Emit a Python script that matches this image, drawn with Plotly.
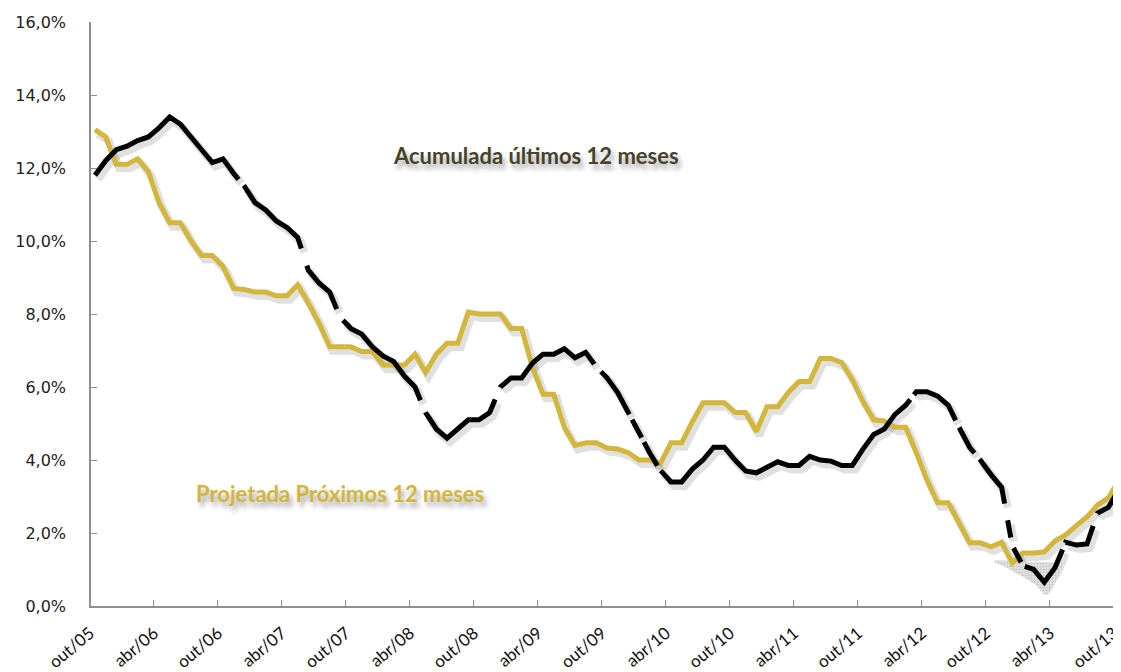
import math
import plotly.graph_objects as go

# ---------------- data ----------------
TICK_LABELS = ["out/05", "abr/06", "out/06", "abr/07", "out/07", "abr/08", "out/08",
               "abr/09", "out/09", "abr/10", "out/10", "abr/11", "out/11", "abr/12",
               "out/12", "abr/13", "out/13"]
Y_TICKS = [0, 2, 4, 6, 8, 10, 12, 14, 16]
Y_TICK_LABELS = ["0,0%", "2,0%", "4,0%", "6,0%", "8,0%", "10,0%", "12,0%", "14,0%", "16,0%"]

ACUMULADA = [11.8, 12.2, 12.5, 12.6, 12.75, 12.85, 13.1, 13.4, 13.2, 12.85,
             12.5, 12.15, 12.25, 11.85, 11.5, 11.05, 10.85, 10.55, 10.37, 10.1,
             9.2, 8.85, 8.6, 7.9, 7.6, 7.45, 7.1, 6.85, 6.7, 6.3,
             6.0, 5.3, 4.85, 4.6, 4.85, 5.1, 5.1, 5.3, 6.0, 6.25,
             6.25, 6.65, 6.9, 6.9, 7.05, 6.8, 6.95, 6.55, 6.25, 5.85,
             5.3, 4.75, 4.2, 3.72, 3.4, 3.4, 3.75, 4.0, 4.35, 4.35,
             4.0, 3.7, 3.65, 3.8, 3.95, 3.85, 3.85, 4.1, 4.0, 3.97,
             3.85, 3.85, 4.3, 4.7, 4.85, 5.25, 5.5, 5.87, 5.87, 5.75,
             5.5, 4.9, 4.35, 4.0, 3.6, 3.25, 1.65, 1.1, 1.0, 0.65,
             1.05, 1.75, 1.67, 1.7, 2.55, 2.7, 3.2]

PROJETADA = [13.05, 12.85, 12.1, 12.1, 12.25, 11.9, 11.05, 10.5, 10.5, 10.0,
             9.6, 9.6, 9.3, 8.7, 8.67, 8.6, 8.6, 8.5, 8.5, 8.8,
             8.3, 7.75, 7.1, 7.1, 7.1, 6.97, 6.97, 6.6, 6.6, 6.6,
             6.9, 6.4, 6.9, 7.2, 7.2, 8.05, 8.0, 8.0, 8.0, 7.6,
             7.6, 6.55, 5.8, 5.8, 4.9, 4.4, 4.47, 4.47, 4.33, 4.3,
             4.2, 4.0, 4.0, 3.9, 4.47, 4.47, 5.05, 5.57, 5.57, 5.57,
             5.3, 5.3, 4.78, 5.46, 5.46, 5.85, 6.15, 6.15, 6.78, 6.78,
             6.67, 6.2, 5.6, 5.1, 5.07, 4.9, 4.9, 4.2, 3.45, 2.83,
             2.83, 2.28, 1.73, 1.73, 1.62, 1.75, 1.18, 1.45, 1.45, 1.48,
             1.78, 1.95, 2.2, 2.44, 2.77, 2.96, 3.45]

# grey speckled patch under the 2013 trough
PATCH_X = [84.3, 85.5, 86.4, 87.3, 88.1, 89.2, 90.0, 90.7]
PATCH_TOP = [1.25, 1.25, 1.22, 1.2, 1.2, 1.2, 1.2, 1.18]
PATCH_BOTTOM = [1.2, 1.05, 0.9, 0.75, 0.6, 0.3, 0.62, 1.1]

# ---------------- styling ----------------
# the page body has an 8px margin: the figure is placed at (8, 8)
PAGE_OFF = 8
W, H = 1121 - PAGE_OFF, 672 - PAGE_OFF
ML, MR, MT, MB = 91 - PAGE_OFF, 0, 22 - PAGE_OFF, 66
X_RANGE = [-0.375, 96.19]
Y_RANGE = [0, 16]
GOLD = "#D3B63C"
AXIS_GRAY = "#8f8f8f"

# break points of the black line: (month position, gap length in px)
BLACK_GAPS = [(13.7, 8), (19.6, 18), (22.9, 13), (30.75, 13), (37.75, 13),
              (47.1, 10), (50.22, 6), (51.36, 5), (52.88, 6), (76.6, 6),
              (80.85, 8), (82.69, 8), (85.42, 17), (85.95, 11), (86.95, 6),
              (90.84, 7), (93.78, 13)]

x = list(range(len(ACUMULADA)))
sx = (W - ML - MR) / (X_RANGE[1] - X_RANGE[0])
sy = (H - MT - MB) / (Y_RANGE[1] - Y_RANGE[0])


def dash_pattern(vals, gaps):
    cum = [0.0]
    for k in range(1, len(vals)):
        cum.append(cum[-1] + math.hypot(sx, (vals[k] - vals[k - 1]) * sy))

    def s_at(g):
        k = int(g)
        f = g - k
        return cum[k] + f * (cum[k + 1] - cum[k])

    parts, prev = [], 0.0
    for g, L in gaps:
        c = s_at(g)
        parts += [max(c - L / 2 - prev, 0.5), L]
        prev = c + L / 2
    parts += [cum[-1] - prev + 300, 1]
    return ",".join(f"{p:.2f}px" for p in parts)


black_dash = dash_pattern(ACUMULADA, BLACK_GAPS)

fig = go.Figure()

# shadows (on shifted overlay axes)
fig.add_trace(go.Scatter(x=x, y=PROJETADA, mode="lines", xaxis="x2", yaxis="y2",
                         line=dict(color="rgba(0,0,0,0.12)", width=8, simplify=False),
                         hoverinfo="skip", showlegend=False))
fig.add_trace(go.Scatter(x=x, y=ACUMULADA, mode="lines", xaxis="x2", yaxis="y2",
                         line=dict(color="rgba(0,0,0,0.12)", width=8, dash=black_dash,
                                   simplify=False),
                         hoverinfo="skip", showlegend=False))
# grey patch
fig.add_trace(go.Scatter(x=PATCH_X, y=PATCH_BOTTOM, mode="lines", xaxis="x3", yaxis="y3",
                         line=dict(color="rgba(0,0,0,0)", width=0, shape="spline"),
                         hoverinfo="skip", showlegend=False))
fig.add_trace(go.Scatter(x=PATCH_X, y=PATCH_TOP, mode="lines", xaxis="x3", yaxis="y3",
                         fill="tonexty", fillcolor="#dcdcdc",
                         fillpattern=dict(shape=".", fgcolor="#a8a8a8", bgcolor="#e2e2e2",
                                          size=3, solidity=0.35),
                         line=dict(color="rgba(0,0,0,0)", width=0),
                         hoverinfo="skip", showlegend=False))
# main lines
fig.add_trace(go.Scatter(x=x, y=PROJETADA, mode="lines", xaxis="x3", yaxis="y3",
                         name="Projetada Próximos 12 meses",
                         line=dict(color=GOLD, width=5, simplify=False),
                         showlegend=False))
fig.add_trace(go.Scatter(x=x, y=ACUMULADA, mode="lines", xaxis="x3", yaxis="y3",
                         name="Acumulada últimos 12 meses",
                         line=dict(color="#000000", width=5, dash=black_dash,
                                   simplify=False),
                         showlegend=False))

shx, shy = 3 / sx, 4 / sy

fig.update_layout(
    width=W, height=H,
    margin=dict(l=ML, r=MR, t=MT, b=MB, pad=0, autoexpand=False),
    paper_bgcolor="white", plot_bgcolor="white",
    showlegend=False,
    xaxis=dict(range=X_RANGE, tickmode="array", tickvals=list(range(0, 97, 6)),
               ticktext=TICK_LABELS, tickangle=-40, ticks="", automargin=False,
               ticklabeloverflow="allow", ticklabelshift=-5,
               showline=True, linecolor=AXIS_GRAY, linewidth=1.5,
               showgrid=False, zeroline=False, ticklabelstandoff=9,
               tickfont=dict(family="Lato", size=17, color="#111111"),
               minor=dict(tickmode="linear", tick0=-0.5, dtick=6, ticks="inside",
                          ticklen=6, tickwidth=1.3, tickcolor=AXIS_GRAY, showgrid=False)),
    yaxis=dict(range=Y_RANGE, tickmode="array", tickvals=Y_TICKS, ticktext=Y_TICK_LABELS,
               ticks="inside", ticklen=6, automargin=False,
               tickwidth=1.3, tickcolor=AXIS_GRAY, showline=True, linecolor=AXIS_GRAY,
               linewidth=1.5, showgrid=False, zeroline=False, ticklabelstandoff=20,
               tickfont=dict(family="DejaVu Sans", size=16, color="#222222")),
    xaxis2=dict(range=[X_RANGE[0] - shx, X_RANGE[1] - shx], overlaying="x",
                anchor="y2", visible=False),
    yaxis2=dict(range=[Y_RANGE[0] + shy, Y_RANGE[1] + shy], overlaying="y",
                anchor="x2", visible=False),
    xaxis3=dict(range=X_RANGE, overlaying="x", anchor="y3", visible=False),
    yaxis3=dict(range=Y_RANGE, overlaying="y", anchor="x3", visible=False),
    annotations=[
        dict(x=41.3, y=12.33, xref="x", yref="y", showarrow=False,
             text="<b>Acumulada últimos 12 meses</b>",
             font=dict(family="Lato", size=22, color="#47422A",
                       shadow="3px 5px 5px rgba(0,0,0,0.35)")),
        dict(x=23.0, y=3.07, xref="x", yref="y", showarrow=False,
             text="<b>Projetada Próximos 12 meses</b>",
             font=dict(family="Lato", size=22, color=GOLD,
                       shadow="3px 5px 5px rgba(0,0,0,0.35)")),
    ],
)

fig.write_html("out.html")
